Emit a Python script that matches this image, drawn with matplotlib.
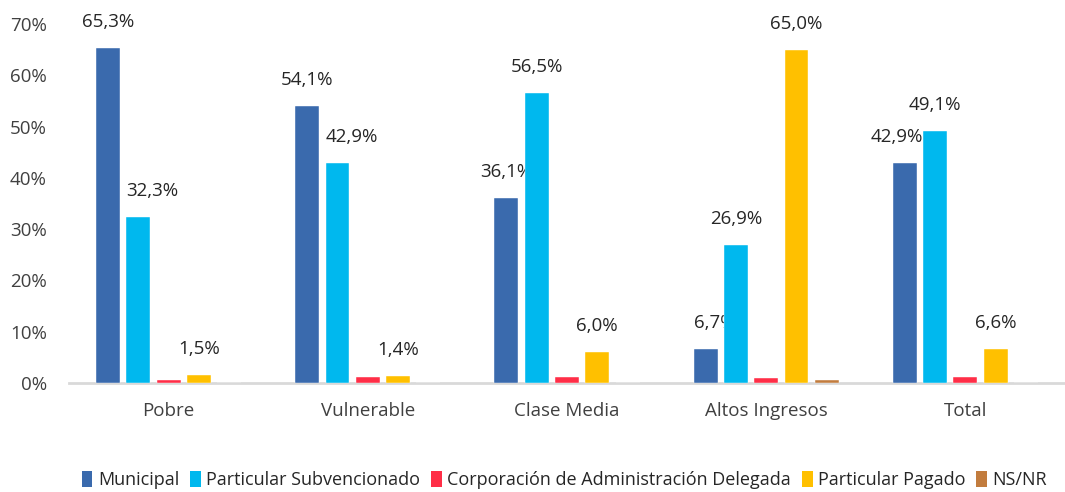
import numpy as np
import matplotlib
matplotlib.use('Agg')
import matplotlib.pyplot as plt
from matplotlib.patches import Patch

plt.rcParams['font.family'] = ['Open Sans', 'DejaVu Sans']

categories = ["Pobre", "Vulnerable", "Clase Media", "Altos Ingresos", "Total"]
series_names = ["Municipal", "Particular Subvencionado",
                "Corporación de Administración Delegada",
                "Particular Pagado", "NS/NR"]
municipal = [65.3, 54.1, 36.1, 6.7, 42.9]
subvencionado = [32.3, 42.9, 56.5, 26.9, 49.1]
corporacion = [0.5, 1.2, 1.1, 0.9, 1.1]
pagado = [1.5, 1.4, 6.0, 65.0, 6.6]
nsnr = [0.0, 0.0, 0.0, 0.5, 0.0]
labelled = [True, True, False, True, False]

colors = ['#3A6AAD', '#00B8EE', '#FF2E47', '#FFC000', '#C27C3E']
series = [municipal, subvencionado, corporacion, pagado, nsnr]

# ── Figure ────────────────────────────────────────────────────────────────────
fig = plt.figure(figsize=(10.65, 4.92), dpi=100)
ax = fig.add_axes([69/1065, 1 - 383/492, 1 - 69/1065, (383 - 24)/492])

x = np.arange(len(categories))
step = 0.152
width = 0.12
# small horizontal nudges (px) mimicking Excel label placement
nudge = {0: [0, 0, 0, 9, -8], 1: [14, 14, 0, 0, 0], 3: [0, 0, 0, 0, 0]}

for i, (vals, col) in enumerate(zip(series, colors)):
    xpos = x + (i - 2) * step
    ax.bar(xpos, vals, width, color=col, edgecolor='white', linewidth=0.3,
           zorder=3)
    if labelled[i]:
        for j, v in enumerate(vals):
            ax.annotate(f"{v:.1f}%".replace('.', ','),
                        xy=(xpos[j], v), xytext=(nudge[i][j], 26),
                        textcoords='offset pixels',
                        ha='center', va='center', fontsize=13.5,
                        color='#262626', annotation_clip=False)

ax.set_xlim(-0.5, 4.5)
ax.set_ylim(0, 70)
ax.set_yticks(np.arange(0, 71, 10))
ax.set_yticklabels([f"{t}%" for t in range(0, 71, 10)])
ax.set_xticks(x)
ax.set_xticklabels(categories)
ax.tick_params(axis='both', length=0, labelsize=13.5, colors='#404040')
ax.tick_params(axis='x', pad=14)
ax.tick_params(axis='y', pad=16)
for s in ['top', 'right', 'left']:
    ax.spines[s].set_visible(False)
ax.spines['bottom'].set_color('#D9D9D9')
ax.spines['bottom'].set_linewidth(2)
ax.spines['bottom'].set_zorder(2)

handles = [Patch(facecolor=c, edgecolor='none') for c in colors]
fig.legend(handles, series_names, loc='center', bbox_to_anchor=(0.53, 0.025),
           ncol=5, frameon=False, fontsize=13, handlelength=0.6,
           handleheight=1.0, handletextpad=0.3, columnspacing=0.6,
           labelcolor='#262626')

fig.savefig('out.png', dpi=100)
